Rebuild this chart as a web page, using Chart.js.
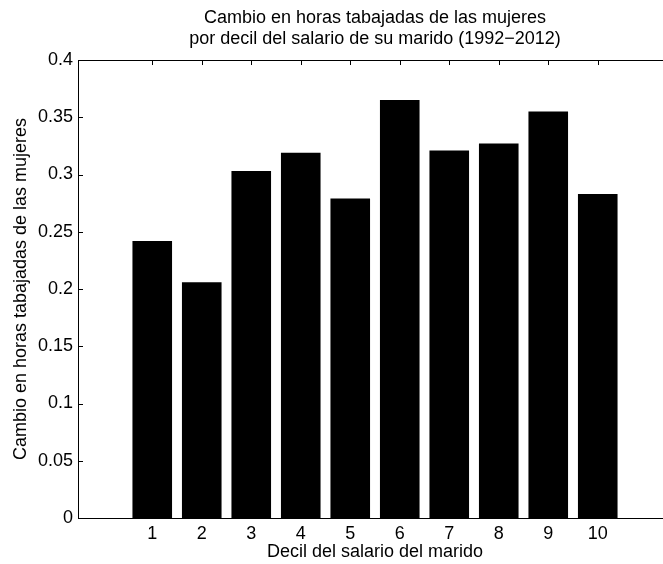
<!DOCTYPE html>
<html>
<head>
<meta charset="utf-8">
<script src="https://cdn.jsdelivr.net/npm/chart.js@4/dist/chart.umd.min.js"></script>
<style>
  html, body { margin: 0; padding: 0; background: #fff; overflow: hidden; }
  #wrap { width: 680px; height: 564px; }
</style>
</head>
<body>
<div id="wrap"><canvas id="chart1" width="680" height="564"></canvas></div>
<script>
const deciles = [1, 2, 3, 4, 5, 6, 7, 8, 9, 10];
const cambio = [0.242, 0.206, 0.303, 0.319, 0.279, 0.365, 0.321, 0.327, 0.355, 0.283];
const yTicks = [0, 0.05, 0.1, 0.15, 0.2, 0.25, 0.3, 0.35, 0.4];

const FONT = 'Liberation Sans, Arial, Helvetica, sans-serif';

// box round the plot with short inward ticks on all four sides, like matlab
const boxTicks = {
  id: 'boxTicks',
  afterDraw(chart) {
    const ctx = chart.ctx;
    const a = chart.chartArea;
    const sx = chart.scales.x, sy = chart.scales.y;
    const len = 5;
    ctx.save();
    ctx.strokeStyle = '#000';
    ctx.lineWidth = 1;
    ctx.strokeRect(Math.round(a.left) + 0.5, Math.round(a.top) + 0.5,
      Math.round(a.right - a.left), Math.round(a.bottom - a.top));
    ctx.beginPath();
    yTicks.forEach(v => {
      const y = Math.round(sy.getPixelForValue(v)) + 0.5;
      ctx.moveTo(a.left, y); ctx.lineTo(a.left + len, y);
      ctx.moveTo(a.right, y); ctx.lineTo(a.right - len, y);
    });
    deciles.forEach(v => {
      const x = Math.round(sx.getPixelForValue(v)) + 0.5;
      ctx.moveTo(x, a.bottom); ctx.lineTo(x, a.bottom - len);
      ctx.moveTo(x, a.top); ctx.lineTo(x, a.top + len);
    });
    ctx.stroke();
    ctx.restore();
  }
};

new Chart(document.getElementById('chart1').getContext('2d'), {
  type: 'bar',
  data: {
    datasets: [{
      data: deciles.map((d, i) => ({ x: d, y: cambio[i] })),
      backgroundColor: '#000',
      borderColor: '#000',
      borderWidth: 0,
      barPercentage: 0.8,
      categoryPercentage: 1.0
    }]
  },
  options: {
    animation: false,
    responsive: false,
    layout: { padding: { left: 0, right: 8, top: 0, bottom: 0 } },
    plugins: {
      legend: { display: false },
      tooltip: { enabled: false },
      title: {
        display: true,
        fullSize: false,
        text: ['Cambio en horas tabajadas de las mujeres', 'por decil del salario de su marido (1992\u22122012)'],
        color: '#000',
        font: { family: FONT, size: 18, weight: 'normal', lineHeight: 1.17 },
        padding: { top: 7.5, bottom: 10.4 }
      }
    },
    scales: {
      x: {
        type: 'linear',
        min: 0,
        max: 11,
        grid: { display: false, drawTicks: false },
        border: { display: false },
        ticks: {
          stepSize: 1,
          padding: 5,
          color: '#000',
          maxRotation: 0,
          autoSkip: false,
          font: { family: FONT, size: 18 },
          callback: v => (v >= 1 && v <= 10) ? String(v) : ''
        },
        title: {
          display: true,
          text: 'Decil del salario del marido',
          color: '#000',
          font: { family: FONT, size: 18 },
          padding: { top: 0, bottom: 1 }
        },
        afterFit: s => { s.height = 46; }
      },
      y: {
        min: 0,
        max: 0.4,
        grid: { display: false, drawTicks: false },
        border: { display: false },
        ticks: {
          stepSize: 0.05,
          padding: 5,
          color: '#000',
          font: { family: FONT, size: 18 },
          callback: v => String(+v.toFixed(2))
        },
        title: {
          display: true,
          text: 'Cambio en horas tabajadas de las mujeres',
          color: '#000',
          font: { family: FONT, size: 18 },
          padding: { top: 10, bottom: 0 }
        },
        afterFit: s => { s.width = 78; }
      }
    }
  },
  plugins: [boxTicks]
});
</script>
</body>
</html>
